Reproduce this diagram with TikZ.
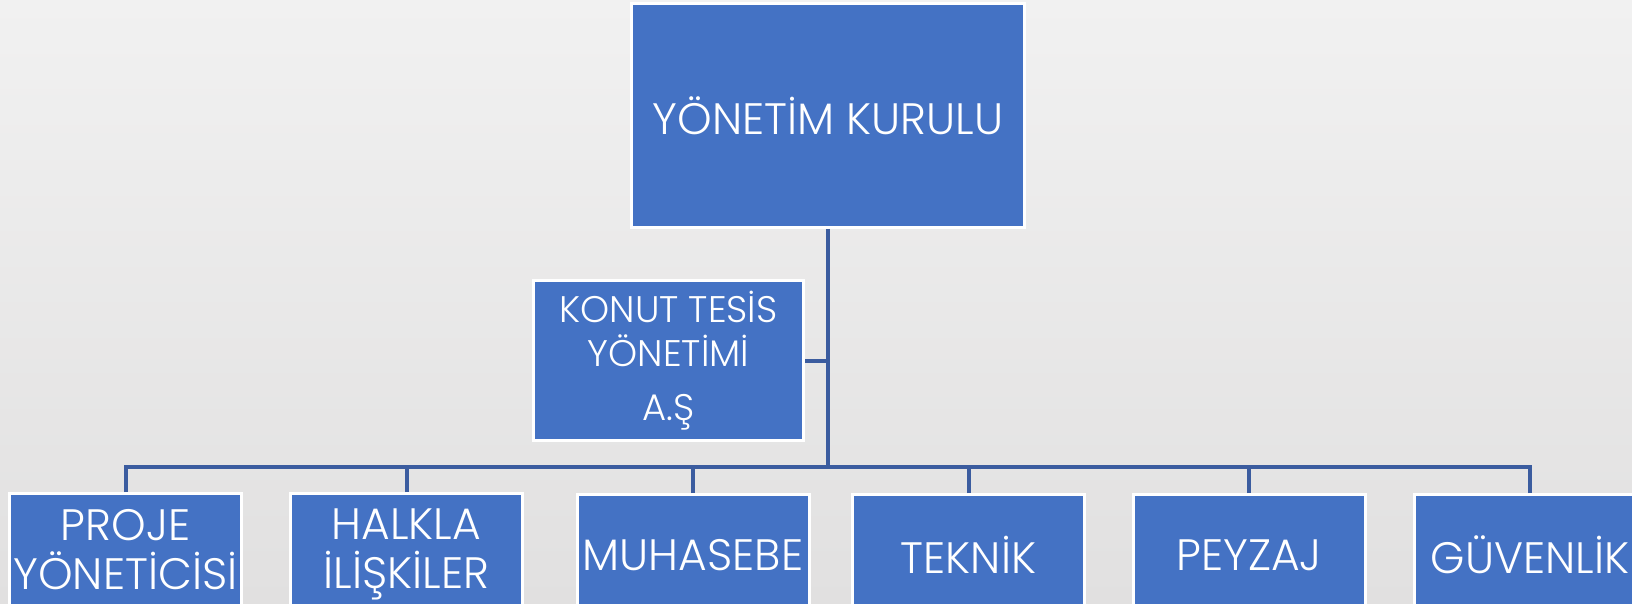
\documentclass[tikz,border=0pt]{standalone}
\usepackage{fontspec}
\setmainfont{Poppins}[UprightFont=* Light]
\usepackage{tikz}
\usetikzlibrary{positioning}
\definecolor{boxblue}{HTML}{4472C4}
\definecolor{lineblue}{HTML}{3B5C9F}
\definecolor{bgtop}{HTML}{F1F1F1}
\definecolor{bgbot}{HTML}{E1E0E0}
\tikzset{
  unit/.style={draw=white, line width=1.5pt, fill=boxblue, text=white, align=center, inner sep=0pt},
  low/.style={unit, minimum width=116pt, minimum height=60.5pt, font=\fontsize{22}{24.5}\selectfont},
  link/.style={draw=lineblue, line width=2pt}
}
\begin{document}
\begin{tikzpicture}[x=0.5pt,y=-0.5pt]
\useasboundingbox (0,0) rectangle (1632,604);
\clip (0,0) rectangle (1632,604);
\shade[top color=bgtop, bottom color=bgbot] (0,0) rectangle (1632,604);
\node[unit, minimum width=196.5pt, minimum height=112pt, font=\fontsize{22}{26}\selectfont] (kurul) at (828,115.5) {YÖNETİM KURULU};
\node[unit, minimum width=135pt, minimum height=80pt, font=\fontsize{18.5}{22}\selectfont] (konut) at (668.5,360.5) {KONUT TESİS\\YÖNETİMİ\\[5pt]A.Ş};
\node[low, text depth=5pt] (proje) at (125.5,554) {PROJE\\YÖNETİCİSİ};
\node[low, text depth=5pt] (halkla) at (406.5,554) {HALKLA\\İLİŞKİLER};
\node[low] (muhasebe) at (693,555) {MUHASEBE};
\node[low] (teknik) at (968.5,555) {TEKNİK};
\node[low] (peyzaj) at (1249,555) {PEYZAJ};
\node[low] (guvenlik) at (1530,555) {GÜVENLİK};
\coordinate (bus) at (828,467);
\draw[link] (kurul.south) -- (bus);
\draw[link] (konut.east) -- (konut.east -| bus);
\foreach \n in {proje,halkla,muhasebe,teknik,peyzaj,guvenlik}
  \draw[link] (\n.north) |- (bus);
\end{tikzpicture}
\end{document}
